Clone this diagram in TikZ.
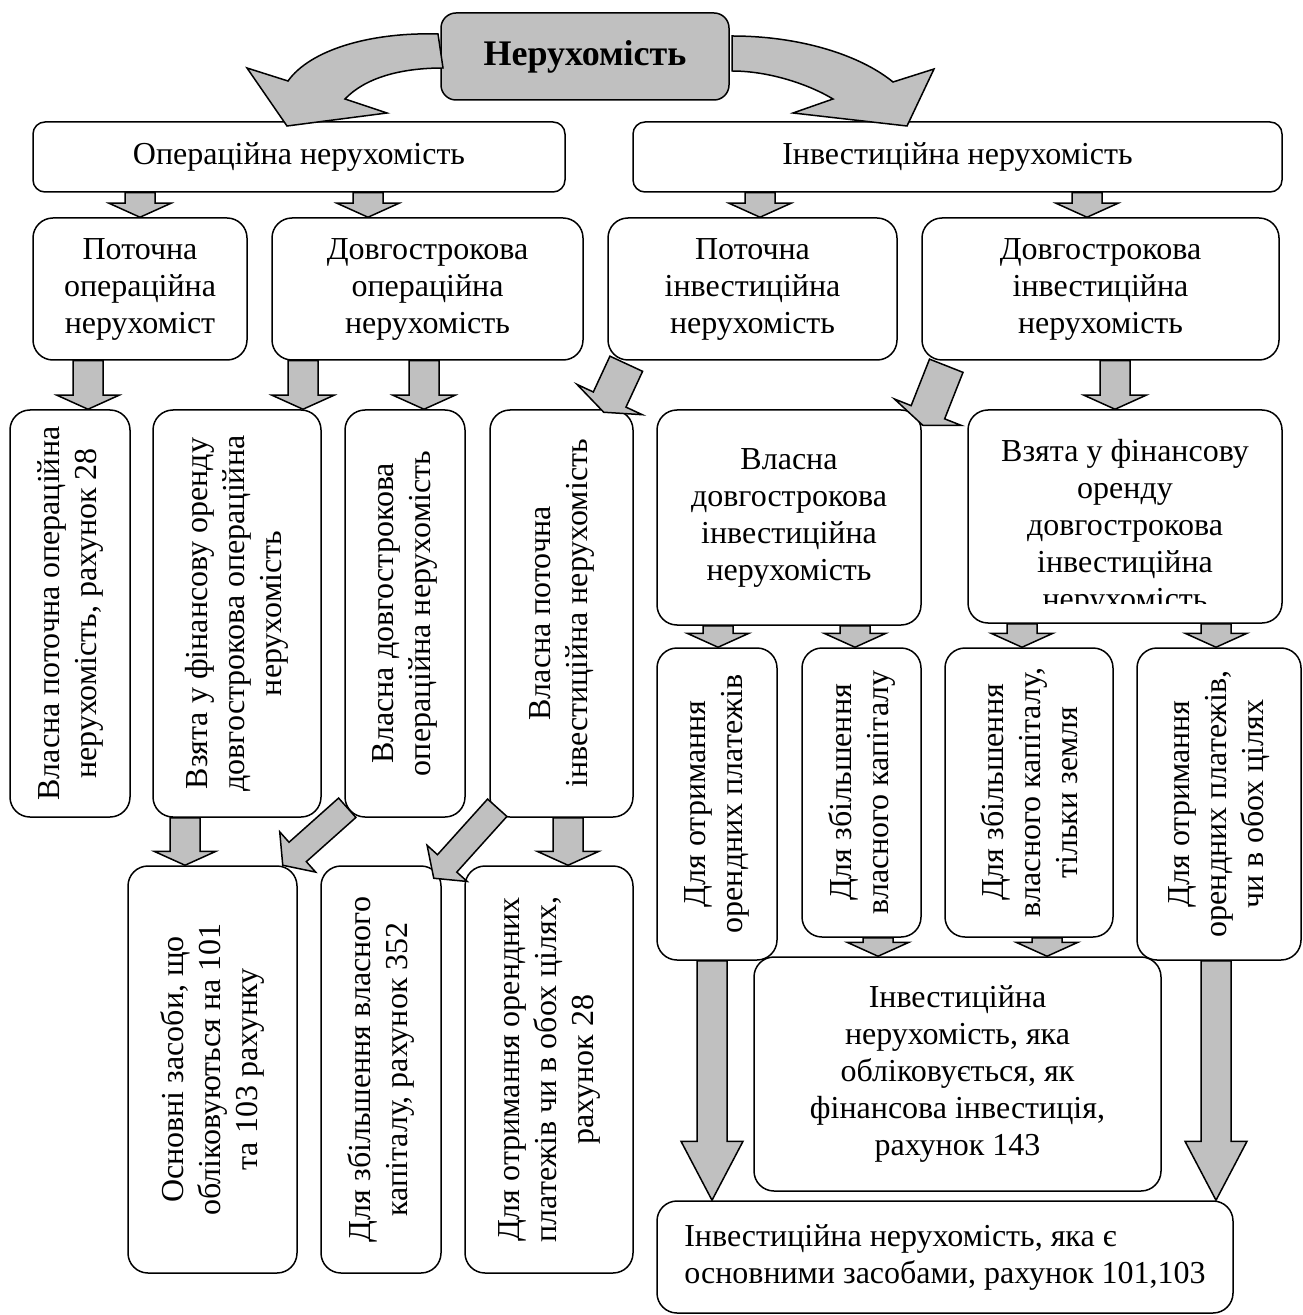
\documentclass[tikz,border=0pt]{standalone}
\usepackage{fontspec}
\setmainfont{Liberation Serif}
\usetikzlibrary{calc}
\definecolor{siryi}{RGB}{192,192,192}
\tikzset{shaftw/.store in=\shaftw, headw/.store in=\headw, headl/.store in=\headl,
	shaftw=7.5pt, headw=15.5pt, headl=7pt}

\begin{document}
\begin{tikzpicture}[x=0.5pt, y=-0.5pt, font=\fontsize{16}{18.5}\selectfont]
	\tikzstyle{riven} = [rectangle, rounded corners=10pt, draw=black, line width=0.75pt, align=center, inner sep=2pt]
	\tikzstyle{shapka} = [riven, rounded corners=6pt]
	\tikzstyle{vert} = [riven, rotate=90]
	\tikzstyle{zalyvka} = [draw=black, fill=siryi, line width=0.75pt, line join=miter]
	\tikzstyle{strilka} = [zalyvka, to path={
		let \p1=(\tikztostart), \p2=(\tikztotarget), \n1={atan2(\y2-\y1,\x2-\x1)} in
		($(\p1)+(\n1+90:\shaftw)$) -- ($(\p2)+(\n1+180:\headl)+(\n1+90:\shaftw)$)
		-- ($(\p2)+(\n1+180:\headl)+(\n1+90:\headw)$) -- (\p2)
		-- ($(\p2)+(\n1+180:\headl)+(\n1-90:\headw)$) -- ($(\p2)+(\n1+180:\headl)+(\n1-90:\shaftw)$)
		-- ($(\p1)+(\n1-90:\shaftw)$) -- cycle}]
	
	\useasboundingbox (0,0) rectangle (1302,1315);
	
	\node (neruh) [riven, fill=siryi, rounded corners=7.5pt, minimum width=144pt, minimum height=43.5pt, font=\fontsize{18}{21}\selectfont\bfseries] at (585,56.5) {Нерухомість};
	\node (oper) [shapka, minimum width=266pt, minimum height=35pt] at (299,157) {Операційна нерухомість};
	\node (invest) [shapka, minimum width=324.5pt, minimum height=35pt] at (957.5,157) {Інвестиційна нерухомість};
	
	\node (potop) [riven, minimum width=107pt, minimum height=71pt] at (140,289) {Поточна\\операційна\\нерухоміст};
	\node (dovop) [riven, minimum width=155.5pt, minimum height=71pt] at (427.5,289) {Довгострокова\\операційна\\нерухомість};
	\node (potinv) [riven, minimum width=144.5pt, minimum height=71pt] at (752.5,289) {Поточна\\інвестиційна\\нерухомість};
	\node (dovinv) [riven, minimum width=178.5pt, minimum height=71pt] at (1100.5,289) {Довгострокова\\інвестиційна\\нерухомість};
	
	\node (vlpotop) [vert, minimum width=203.5pt, minimum height=60pt] at (70,613.5) {Власна поточна операційна\\нерухомість, рахунок 28};
	\node (vzop) [vert, minimum width=203.5pt, minimum height=84pt] at (237,613.5) {Взята у фінансову оренду\\довгострокова операційна\\нерухомість};
	\node (vldovop) [vert, minimum width=203.5pt, minimum height=60pt] at (405,613.5) {Власна довгострокова\\операційна нерухомість};
	\node (vlpotinv) [vert, minimum width=203.5pt, minimum height=71.5pt] at (561.5,613.5) {Власна поточна\\інвестиційна нерухомість};
	\node (vldovinv) [riven, minimum width=132pt, minimum height=107.5pt] at (789,517.5) {Власна\\довгострокова\\інвестиційна\\нерухомість};
	\node (vzinv) [riven, minimum width=157pt, minimum height=106.5pt] at (1125,516.5) {};
	\begin{scope}
		\clip (vzinv.north west) rectangle ([yshift=10pt]vzinv.south east);
		\node (vzinvtekst) [align=center] at (1125,528) {Взята у фінансову\\оренду\\довгострокова\\інвестиційна\\нерухомість};
	\end{scope}
	
	\node (orendl) [vert, minimum width=156pt, minimum height=60pt] at (717,804) {Для отримання\\орендних платежів};
	\node (kapl) [vert, minimum width=144.5pt, minimum height=59.5pt] at (861.5,792.5) {Для збільшення\\власного капіталу};
	\node (zeml) [vert, minimum width=144.5pt, minimum height=84pt] at (1029,792.5) {Для збільшення\\власного капіталу,\\тільки земля};
	\node (orendr) [vert, minimum width=156pt, minimum height=82pt] at (1219,804) {Для отримання\\орендних платежів,\\чи в обох цілях};
	\node (fin143) [riven, minimum width=203.5pt, minimum height=117pt] at (957.5,1074) {Інвестиційна\\нерухомість, яка\\обліковується, як\\фінансова інвестиція,\\рахунок 143};
	\node (osn101) [riven, align=left, minimum width=288pt, minimum height=56pt] at (945,1257) {Інвестиційна нерухомість, яка є\\основними засобами, рахунок 101,103};
	
	\node (osnz) [vert, minimum width=203.5pt, minimum height=84.5pt] at (212.5,1069.5) {Основні засоби, що\\обліковуються на 101\\та 103 рахунку};
	\node (kap352) [vert, minimum width=203.5pt, minimum height=60pt] at (381,1069.5) {Для збільшення власного\\капіталу, рахунок 352};
	\node (orend28) [vert, minimum width=203.5pt, minimum height=84pt] at (549,1069.5) {Для отримання орендних\\платежів чи в обох цілях,\\рахунок 28};
	
	\draw [zalyvka] (438,34) .. controls (370,32) and (310,50) .. (288,81) -- (247,68) -- (287,126) -- (387,113) -- (345,99) .. controls (365,78) and (400,68) .. (443,68) -- cycle;
	\draw [zalyvka] (732,36) .. controls (800,36) and (860,55) .. (893,82) -- (934,69) -- (907,126) -- (793,113) -- (833,99) .. controls (810,85) and (770,71) .. (732,71) -- cycle;
	
	\draw [strilka] (140,0 |- oper.south) to (140,0 |- potop.north);
	\draw [strilka] (368,0 |- oper.south) to (368,0 |- dovop.north);
	\draw [strilka] (760,0 |- invest.south) to (760,0 |- potinv.north);
	\draw [strilka] (1087,0 |- invest.south) to (1087,0 |- dovinv.north);
	
	\draw [strilka] (88,0 |- potop.south) to (88,0 |- vlpotop.east);
	\draw [strilka] (303,0 |- dovop.south) to (303,0 |- vzop.east);
	\draw [strilka] (424,0 |- dovop.south) to (424,0 |- vldovop.east);
	\draw [strilka, shaftw=9pt, headw=18pt] ([shift={(19,3)}]potinv.south west) to ([shift={(-30,3)}]vlpotinv.south east);
	\draw [strilka, shaftw=9pt, headw=18pt] ([shift={(25,5)}]dovinv.south west) to ([shift={(1,16)}]vldovinv.north east);
	\draw [strilka] (1115,0 |- dovinv.south) to (1115,0 |- vzinv.north);
	
	\draw [strilka] (718,0 |- vldovinv.south) to (718,0 |- orendl.east);
	\draw [strilka] (855,0 |- vldovinv.south) to (855,0 |- kapl.east);
	\draw [strilka] (1022,0 |- vzinv.south) to (1022,0 |- zeml.east);
	\draw [strilka] (1216,0 |- vzinv.south) to (1216,0 |- orendr.east);
	
	\draw [strilka] (185,0 |- vzop.west) to (185,0 |- osnz.east);
	\draw [strilka, shaftw=6.5pt, headw=13.5pt, headl=10pt] ([shift={(3,-10)}]vldovop.north west) to ([shift={(-15,0)}]osnz.south east);
	\draw [strilka, shaftw=6.5pt, headw=13.5pt, headl=10pt] ([shift={(8,-10)}]vlpotinv.north west) to ([shift={(-8,13)}]kap352.south east);
	\draw [strilka] (568,0 |- vlpotinv.west) to (568,0 |- orend28.east);
	
	\draw [strilka] (878,0 |- kapl.west) to (878,0 |- fin143.north);
	\draw [strilka] (1047,0 |- zeml.west) to (1047,0 |- fin143.north);
	\draw [strilka, headl=29.5pt] (712,0 |- orendl.west) to (712,0 |- osn101.north);
	\draw [strilka, headl=29.5pt] (1216,0 |- orendr.west) to (1216,0 |- osn101.north);
\end{tikzpicture}
\end{document}
